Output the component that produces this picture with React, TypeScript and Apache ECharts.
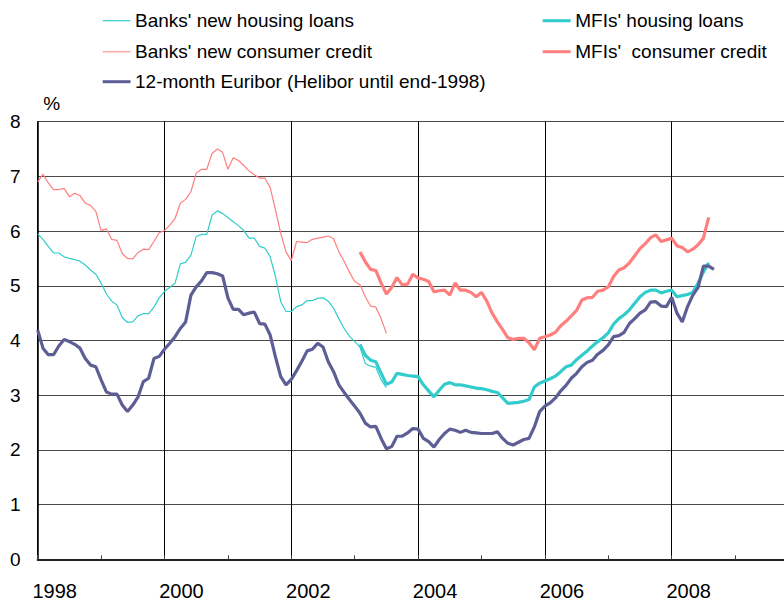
import React, { useEffect, useRef } from "react";
import * as echarts from "echarts";

// ---- Data (monthly, index 0 = Jan 1998) ----
const START_YEAR = 1998;

const euribor = [
  4.19, 3.86, 3.74, 3.74, 3.90, 4.02, 3.98, 3.93, 3.86, 3.67,
  3.55, 3.52, 3.28, 3.06, 3.02, 3.02, 2.82, 2.70, 2.82, 2.97,
  3.25, 3.31, 3.67, 3.71, 3.84, 3.95, 4.07, 4.22, 4.34, 4.83,
  4.98, 5.09, 5.24, 5.24, 5.22, 5.18, 4.78, 4.57, 4.57, 4.47,
  4.50, 4.52, 4.31, 4.30, 4.10, 3.70, 3.34, 3.19, 3.29, 3.45,
  3.62, 3.81, 3.84, 3.95, 3.88, 3.61, 3.43, 3.19, 3.05, 2.92,
  2.80, 2.67, 2.49, 2.42, 2.43, 2.21, 2.02, 2.06, 2.25, 2.25,
  2.31, 2.39, 2.38, 2.21, 2.15, 2.05, 2.19, 2.30, 2.38, 2.36,
  2.32, 2.36, 2.32, 2.31, 2.30, 2.30, 2.30, 2.33, 2.21, 2.12,
  2.09, 2.14, 2.19, 2.21, 2.42, 2.70, 2.80, 2.86, 2.95, 3.08,
  3.18, 3.31, 3.40, 3.52, 3.60, 3.64, 3.75, 3.82, 3.92, 4.07,
  4.09, 4.15, 4.31, 4.40, 4.50, 4.56, 4.70, 4.71, 4.63, 4.62,
  4.79, 4.50, 4.34, 4.62, 4.83, 4.97, 5.36, 5.36, 5.30,
];
const euriborStart = 0;

const banksHousing = [
  5.95, 5.85, 5.72, 5.60, 5.60, 5.53, 5.50, 5.48, 5.45, 5.38,
  5.29, 5.21, 5.05, 4.85, 4.72, 4.65, 4.42, 4.33, 4.34, 4.45,
  4.49, 4.49, 4.61, 4.78, 4.90, 4.97, 5.05, 5.40, 5.43, 5.56,
  5.90, 5.94, 5.94, 6.29, 6.37, 6.32, 6.25, 6.17, 6.10, 6.01,
  5.87, 5.87, 5.72, 5.69, 5.53, 5.17, 4.71, 4.53, 4.53, 4.62,
  4.65, 4.73, 4.73, 4.77, 4.78, 4.72, 4.59, 4.40, 4.22, 4.08,
  3.98, 3.88, 3.58, 3.53, 3.51, 3.28, 3.14,
];
const banksHousingStart = 0;

const banksConsumer = [
  6.90, 7.04, 6.88, 6.76, 6.76, 6.78, 6.63, 6.69, 6.65, 6.51,
  6.47, 6.36, 6.01, 6.04, 5.85, 5.83, 5.59, 5.50, 5.49, 5.61,
  5.67, 5.66, 5.81, 5.97, 6.01, 6.11, 6.23, 6.51, 6.58, 6.72,
  7.06, 7.13, 7.13, 7.42, 7.50, 7.44, 7.13, 7.34, 7.29, 7.20,
  7.10, 7.03, 6.97, 6.97, 6.80, 6.39, 5.96, 5.62, 5.46, 5.81,
  5.80, 5.79, 5.85, 5.87, 5.89, 5.91, 5.86, 5.62, 5.45, 5.25,
  5.08, 5.02, 4.80, 4.63, 4.61, 4.40, 4.13,
];
const banksConsumerStart = 0;

const mfiHousing = [
  3.93, 3.73, 3.64, 3.61, 3.40, 3.20, 3.24, 3.40, 3.38, 3.36,
  3.35, 3.34, 3.19, 3.08, 2.97, 3.09, 3.20, 3.23, 3.19, 3.19,
  3.17, 3.15, 3.13, 3.12, 3.10, 3.07, 3.05, 2.95, 2.85, 2.86,
  2.87, 2.89, 2.92, 3.15, 3.22, 3.26, 3.30, 3.35, 3.43, 3.52,
  3.55, 3.65, 3.73, 3.81, 3.90, 3.98, 4.05, 4.14, 4.30, 4.40,
  4.47, 4.56, 4.68, 4.80, 4.88, 4.92, 4.92, 4.87, 4.90, 4.92,
  4.80, 4.82, 4.84, 4.88, 5.05, 5.25, 5.42,
];
const mfiHousingStart = 61;

const mfiConsumer = [
  5.62, 5.44, 5.30, 5.28, 5.05, 4.85, 4.97, 5.15, 5.02, 5.03,
  5.21, 5.14, 5.12, 5.08, 4.89, 4.91, 4.92, 4.83, 5.05, 4.92,
  4.92, 4.88, 4.80, 4.88, 4.72, 4.50, 4.34, 4.20, 4.05, 4.02,
  4.04, 4.04, 3.96, 3.83, 4.04, 4.07, 4.10, 4.15, 4.27, 4.35,
  4.45, 4.55, 4.74, 4.78, 4.79, 4.90, 4.92, 4.98, 5.17, 5.29,
  5.33, 5.42, 5.55, 5.68, 5.77, 5.88, 5.93, 5.81, 5.84, 5.87,
  5.73, 5.70, 5.62, 5.67, 5.75, 5.87, 6.25,
];
const mfiConsumerStart = 61;

const seriesNames = [
  "Banks' new housing loans",
  "Banks' new consumer credit",
  "12-month Euribor (Helibor until end-1998)",
  "MFIs' housing loans",
  "MFIs'  consumer credit",
];

const X_MIN = 1998;
const X_MAX = 2010;
const Y_MIN = 0;
const Y_MAX = 8;
const yTickLabels = ["0", "1", "2", "3", "4", "5", "6", "7", "8"];

// ---- styling ----
const FONT = "'Liberation Sans', Arial, Helvetica, sans-serif";
const CYAN = "#33CCCC";
const PINK = "#FF7F7F";
const NAVY = "#5E5E96";

function toPoints(values: number[], start: number) {
  return values.map((v, i) => [START_YEAR + (start + i) / 12, v]);
}

export default function App() {
  const ref = useRef<HTMLDivElement>(null);

  useEffect(() => {
    if (!ref.current) return;
    const chart = echarts.init(ref.current, undefined, { renderer: "svg" });

    const seriesDefs = [
      { name: seriesNames[0], data: toPoints(banksHousing, banksHousingStart), color: CYAN, width: 1.2 },
      { name: seriesNames[1], data: toPoints(banksConsumer, banksConsumerStart), color: PINK, width: 1.2 },
      { name: seriesNames[3], data: toPoints(mfiHousing, mfiHousingStart), color: CYAN, width: 3.2 },
      { name: seriesNames[4], data: toPoints(mfiConsumer, mfiConsumerStart), color: PINK, width: 3.2 },
      { name: seriesNames[2], data: toPoints(euribor, euriborStart), color: NAVY, width: 3.2 },
    ];

    const legendLayout = [
      { name: seriesNames[0], x1: 102.7, x2: 130.5, y: 20.7, color: CYAN, width: 1.2 },
      { name: seriesNames[1], x1: 102.7, x2: 130.5, y: 51.7, color: "#FFAAAA", width: 1.6 },
      { name: seriesNames[2], x1: 102.7, x2: 130.5, y: 81.7, color: NAVY, width: 3 },
      { name: seriesNames[3], x1: 542.7, x2: 570.7, y: 20.7, color: CYAN, width: 3 },
      { name: seriesNames[4], x1: 542.7, x2: 570.7, y: 51.7, color: PINK, width: 3 },
    ];

    const graphics: any[] = [];
    legendLayout.forEach((l) => {
      graphics.push({
        type: "line",
        shape: { x1: l.x1, y1: l.y, x2: l.x2, y2: l.y },
        style: { stroke: l.color, lineWidth: l.width },
      });
      graphics.push({
        type: "text",
        x: l.x2 + 4.5,
        y: l.y,
        style: {
          text: l.name,
          fontFamily: FONT,
          fontSize: 19,
          fill: "#000",
          verticalAlign: "middle",
          align: "left",
        },
      });
    });

    chart.setOption({
      animation: false,
      backgroundColor: "#ffffff",
      grid: { left: 37.7, top: 121.7, width: 760.8, height: 437.6, containLabel: false },
      xAxis: {
        type: "value",
        min: X_MIN,
        max: X_MAX,
        interval: 2,
        axisLine: { show: true, lineStyle: { color: "#222", width: 2 } },
        axisTick: { show: true, inside: true, length: 4, lineStyle: { color: "#444" } },
        minorTick: { show: true, splitNumber: 2, length: 4, lineStyle: { color: "#444", width: 1 } },
        splitLine: { show: true, lineStyle: { color: "#000", width: 1 } },
        axisLabel: {
          fontFamily: FONT,
          fontSize: 20,
          color: "#000",
          margin: 22,
          padding: [0, 0, 0, 34],
          formatter: (v: number) => String(v),
          showMaxLabel: false,
        },
      },
      yAxis: {
        type: "value",
        min: Y_MIN,
        max: Y_MAX,
        interval: 1,
        name: "%",
        nameLocation: "end",
        nameGap: 9,
        nameTextStyle: {
          fontFamily: FONT,
          fontSize: 19,
          color: "#000",
          align: "center",
          padding: [0, 0, 0, 28],
        },
        axisLine: { show: true, lineStyle: { color: "#000", width: 1.5 } },
        axisTick: { show: false },
        splitLine: { show: true, lineStyle: { color: "#4a4a4a", width: 1 } },
        axisLabel: {
          fontFamily: FONT,
          fontSize: 19,
          color: "#000",
          margin: 17,
          formatter: (v: number) => yTickLabels[Math.round(v)] ?? String(v),
        },
      },
      series: seriesDefs.map((s) => ({
        name: s.name,
        type: "line",
        data: s.data,
        showSymbol: false,
        symbol: "none",
        smooth: false,
        lineStyle: { color: s.color, width: s.width },
        itemStyle: { color: s.color },
        emphasis: { disabled: true },
      })),
      graphic: graphics,
    });

    return () => {
      chart.dispose();
    };
  }, []);

  return (
    <div
      ref={ref}
      style={{ position: "fixed", left: 0, top: 0, width: 800, height: 604, background: "#fff" }}
    />
  );
}
